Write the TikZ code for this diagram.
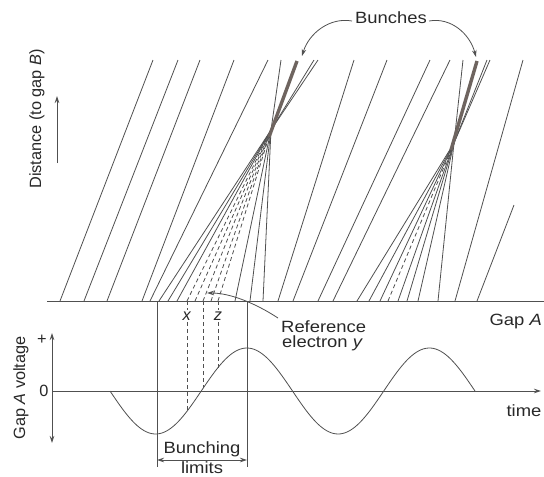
\documentclass[tikz,border=0pt]{standalone}
\usepackage{fontspec}
\setmainfont{Liberation Sans}
\usetikzlibrary{arrows.meta}
\definecolor{ln}{RGB}{80,80,80}
\definecolor{thk}{RGB}{110,100,95}
\definecolor{txt}{RGB}{40,40,40}
\newcommand\hs[1]{\scalebox{1.13}[1]{#1}}
\begin{document}
\begin{tikzpicture}[x=1pt,y=-1pt,
  traj/.style={draw=ln,line width=0.8pt},
  dtraj/.style={draw=ln,line width=0.8pt,dash pattern=on 4pt off 3pt},
  thick band/.style={draw=thk,line width=3.4pt,line cap=butt},
  axisline/.style={draw=ln,line width=0.9pt},
  arr/.style={draw=ln,line width=0.8pt,-{Stealth[length=7pt,width=4.5pt]}},
  lbl/.style={text=txt,inner sep=1pt,font=\fontsize{16.3}{15}\selectfont}]
\useasboundingbox (0,0) rectangle (544,477);
\fill[white] (0,0) rectangle (544,477);

% Gap A line
\coordinate (gaL) at (47,301);
\coordinate (gaR) at (544,301);
\draw[axisline] (gaL) -- (gaR);

% unbunched / single trajectories
\foreach \a/\b [count=\i] in {60/153,84/178,107/200,142/234,150/268,278/354,293/387,318/430,333/450,455/523}{
  \coordinate (ps\i) at (\a,301);
  \coordinate (pt\i) at (\b,60);
  \draw[traj] (ps\i) -- (pt\i);
}
\coordinate (ss) at (477,301);
\coordinate (st) at (514,205);
\draw[traj] (ss) -- (st);

% first bunch
\coordinate (C1) at (271,130);
\foreach \a [count=\i] in {159,168,177,235,250,263}{
  \coordinate (fa\i) at (\a,301);
  \draw[traj] (fa\i) -- (C1);
}
\foreach \a [count=\i] in {187,195,203,211,218}{
  \coordinate (fd\i) at (\a,301);
  \draw[dtraj] (fd\i) -- (C1);
}
\foreach \b [count=\i] in {281,314,318}{
  \coordinate (fu\i) at (\b,60);
  \draw[traj] (C1) -- (fu\i);
}
\coordinate (B1a) at (269,137);
\coordinate (B1b) at (297,61);
\draw[thick band] (B1a) -- (B1b);

% second bunch
\coordinate (C2) at (454,143);
\foreach \a [count=\i] in {357,369,380,398,407,418,438}{
  \coordinate (ga\i) at (\a,301);
  \draw[traj] (ga\i) -- (C2);
}
\coordinate (gd1) at (388,301);
\draw[dtraj] (gd1) -- (C2);
\foreach \b [count=\i] in {463,487,490}{
  \coordinate (gu\i) at (\b,60);
  \draw[traj] (C2) -- (gu\i);
}
\coordinate (B2a) at (451,150);
\coordinate (B2b) at (477,61);
\draw[thick band] (B2a) -- (B2b);

% Bunches label
\node[lbl,anchor=base] (bunch) at (391,23) {\hs{Bunches}};
\coordinate (b1s) at (352,21);
\coordinate (b1e) at (302,56);
\coordinate (b2s) at (429,21);
\coordinate (b2e) at (476,57);
\draw[arr] (b1s) .. controls (330,17) and (309,33) .. (b1e);
\draw[arr] (b2s) .. controls (451,17) and (470,34) .. (b2e);

% Distance label
\node[lbl,rotate=90] (dist) at (37,119) {Distance (to gap \textit{B})};
\coordinate (da) at (57,163);
\coordinate (db) at (57,96);
\draw[arr] (da) -- (db);

% voltage axes
\coordinate (v0) at (52,391);
\coordinate (vt) at (52,333);
\coordinate (vb) at (52,443);
\coordinate (te) at (541,391);
\draw[axisline,{Stealth[length=7pt,width=4.5pt]}-{Stealth[length=7pt,width=4.5pt]}] (vb) -- (vt);
\draw[axisline,-{Stealth[length=7pt,width=4.5pt]}] (v0) -- (te);
\node[lbl,rotate=90] (gav) at (21,388) {Gap \textit{A} voltage};
\node[lbl] (plus) at (42,340) {+};
\node[lbl] (zero) at (44,391) {0};
\node[lbl,anchor=base] (time) at (524,416) {\hs{time}};
\node[lbl,anchor=base east] (gapa) at (543,325) {\hs{Gap \textit{A}}};

% sine wave
\draw[traj] plot[domain=110:475,samples=150,smooth] (\x,{391+43*sin(1.9726*(\x-110))});

% bunching limits
\coordinate (l1t) at (157,301);
\coordinate (l1b) at (157,467);
\coordinate (l2t) at (247,301);
\coordinate (l2b) at (247,467);
\draw[traj] (l1t) -- (l1b);
\draw[traj] (l2t) -- (l2b);
\coordinate (la) at (157,460);
\coordinate (lb) at (247,460);
\draw[traj,{Stealth[length=7pt,width=4.5pt]}-{Stealth[length=7pt,width=4.5pt]}] (la) -- (lb);
\node[lbl,anchor=base] (bun) at (202,453) {\hs{Bunching}};
\node[lbl,anchor=base] (lim) at (202,473) {\hs{limits}};

% dashed verticals x, y, z
\coordinate (xt) at (187,301);
\coordinate (xb) at (187,411);
\coordinate (yt) at (203,301);
\coordinate (yb) at (203,388);
\coordinate (zt) at (218,301);
\coordinate (zb) at (218,368);
\draw[dtraj] (xt) -- (xb);
\draw[dtraj] (yt) -- (yb);
\draw[dtraj] (zt) -- (zb);
\node[lbl,fill=white,anchor=base,inner sep=1.5pt] (xl) at (187,320) {\textit{x}};
\node[lbl,fill=white,anchor=base,inner sep=1.5pt] (zl) at (218,320) {\textit{z}};

% reference electron label
\node[lbl,anchor=base west] (ref1) at (280,332) {\hs{Reference}};
\node[lbl,anchor=base west] (ref2) at (281,347) {\hs{electron \textit{y}}};
\coordinate (rs) at (278,318);
\coordinate (re) at (207,293);
\draw[arr] (rs) .. controls (255,303) and (230,293) .. (re);
\end{tikzpicture}
\end{document}
